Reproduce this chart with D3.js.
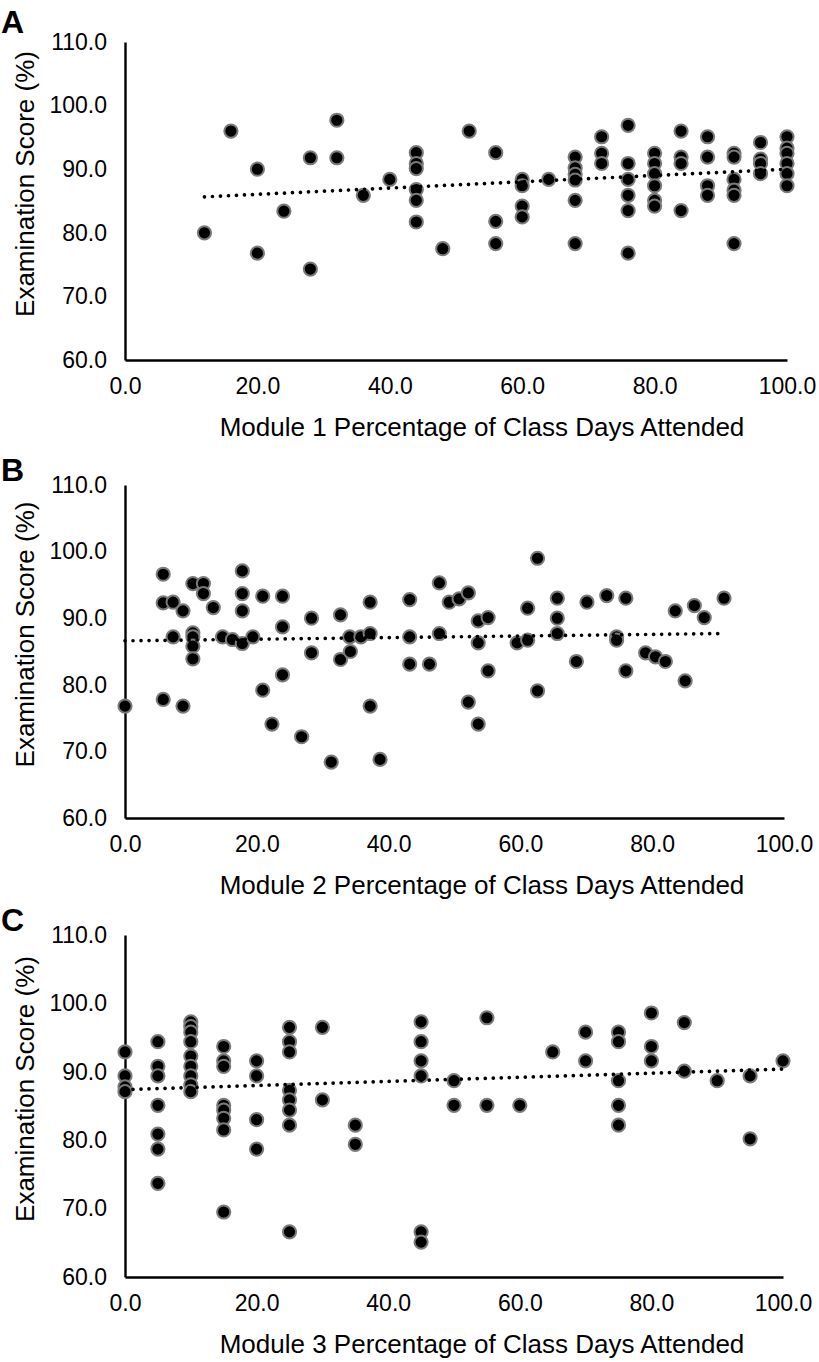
<!DOCTYPE html>
<html><head><meta charset="utf-8">
<script src="https://cdn.jsdelivr.net/npm/d3@7"></script>
<style>
html,body{margin:0;padding:0;background:#fff;}
svg{display:block;font-family:"Liberation Sans",Arial,sans-serif;}
</style></head>
<body>
<svg id="chart" width="819" height="1362"></svg>
<script>
// ---------- data ----------
const panelLetters = ["A", "B", "C"];
const xTitles = [
  "Module 1 Percentage of Class Days Attended",
  "Module 2 Percentage of Class Days Attended",
  "Module 3 Percentage of Class Days Attended"
];
const yTitle = "Examination Score (%)";
const xTicks = [0, 20, 40, 60, 80, 100];
const yTicks = [60, 70, 80, 90, 100, 110];

const attendA = [12,16,20,20,24,28,28,32,32,36,40,44,44,44,44,44,44,48,52,56,56,56,60,60,60,60,64,
  68,68,68,68,68,68,72,72,72,76,76,76,76,76,76,80,80,80,80,80,80,84,84,84,84,88,88,88,88,
  92,92,92,92,92,92,96,96,96,96,100,100,100,100,100,100];
const scoreA = [80.0,96.0,90.0,76.8,83.4,91.8,74.3,97.7,91.8,85.9,88.4,92.6,90.9,90.1,86.8,85.1,81.7,77.5,96.0,92.6,81.8,78.3,88.4,87.4,84.2,82.5,88.4,
  91.9,90.2,89.2,88.3,85.1,78.3,95.1,92.5,90.9,96.9,90.9,88.4,85.9,83.5,76.8,92.5,90.9,89.3,87.4,85.1,84.2,96.0,91.9,90.9,83.5,95.1,91.9,87.4,85.9,
  92.5,91.9,88.4,86.7,85.9,78.3,94.2,91.6,90.9,89.3,95.1,93.3,92.5,90.9,89.3,87.4];

const attendB = [0,5.8,5.8,5.8,7.3,7.3,8.8,8.8,10.3,10.3,10.3,10.3,10.3,11.9,11.9,13.4,14.8,16.3,17.8,17.8,17.8,17.8,19.4,
  20.9,20.9,22.3,23.9,23.9,23.9,26.8,28.3,28.3,31.3,32.7,32.7,34.1,34.2,35.8,37.2,37.2,37.2,38.7,43.2,43.2,43.2,
  46.2,47.7,47.7,49.2,50.7,52.1,52.1,53.6,53.6,53.6,55.1,55.1,59.5,61.1,61.1,62.6,62.6,65.6,65.6,65.6,68.5,70.1,
  73.1,74.6,74.6,76.0,76.0,79.0,80.5,82.0,83.5,85.0,86.4,87.9,90.9];
const scoreB = [76.8,96.6,92.3,77.8,92.4,87.2,91.1,76.8,95.2,87.8,87.2,85.8,83.9,95.2,93.7,91.6,87.2,86.8,97.1,93.7,91.1,86.2,87.2,
  93.3,79.2,74.1,93.3,88.7,81.5,72.2,90.0,84.8,68.4,90.5,83.8,87.2,85.0,87.2,92.4,87.7,76.8,68.8,92.8,87.2,83.1,
  83.1,95.3,87.7,92.4,92.9,93.8,77.4,89.6,86.3,74.1,90.1,82.1,86.3,91.5,86.7,99.0,79.1,93.0,90.0,87.7,83.5,92.4,
  93.4,87.2,86.7,93.0,82.1,84.8,84.2,83.5,91.1,80.6,91.9,90.1,93.0];

const attendC = [0,0,0,0,5,5,5,5,5,5,5,10,10,10,10,10,10,10,10,10,15,15,15,15,15,15,15,15,20,20,20,20,
  25,25,25,25,25,25,25,25,30,30,35,35,45,45,45,45,45,45,50,50,55,55,60,65,70,70,75,75,75,75,75,
  80,80,80,85,85,90,95,95,100];
const scoreC = [92.9,89.4,87.8,87.1,94.4,90.8,89.4,85.1,80.9,78.7,73.7,97.3,96.6,95.8,94.4,92.3,90.8,89.4,88.1,87.1,
  93.7,91.6,90.8,85.1,84.4,83.2,81.5,69.5,91.6,89.4,83.0,78.7,
  96.5,94.4,92.9,87.3,85.9,84.4,82.2,66.6,96.5,85.9,82.2,79.4,97.3,94.4,91.6,89.4,66.6,65.1,
  88.7,85.1,97.9,85.1,85.1,92.9,95.8,91.6,95.8,94.4,88.7,85.1,82.2,98.6,93.7,91.6,97.2,90.1,88.7,89.4,80.2,91.6];

// trendline end points
const trendXA = [12, 100], trendYA = [85.65, 90.0];
const trendXB = [0, 91], trendYB = [86.6, 87.7];
const trendXC = [0, 100], trendYC = [87.4, 90.4];

// ---------- layout ----------
const panels = [
  {letter: panelLetters[0], xs: attendA, ys: scoreA, tx: trendXA, ty: trendYA, title: xTitles[0],
   left: 125, right: 787, top: 42, bottom: 360, letterY: 33},
  {letter: panelLetters[1], xs: attendB, ys: scoreB, tx: trendXB, ty: trendYB, title: xTitles[1],
   left: 125, right: 784, top: 485, bottom: 818, letterY: 481},
  {letter: panelLetters[2], xs: attendC, ys: scoreC, tx: trendXC, ty: trendYC, title: xTitles[2],
   left: 125, right: 783, top: 935, bottom: 1277, letterY: 931}
];

const svg = d3.select("#chart");
svg.append("rect").attr("width", 819).attr("height", 1362).attr("fill", "#fff");
const fmt = d3.format(".1f");

panels.forEach(p => {
  const x = d3.scaleLinear().domain([0, 100]).range([p.left, p.right]);
  const y = d3.scaleLinear().domain([60, 110]).range([p.bottom, p.top]);
  const g = svg.append("g");

  // panel letter
  g.append("text").attr("x", 1).attr("y", p.letterY)
    .attr("font-size", 32).attr("font-weight", "bold").attr("fill", "#000").text(p.letter);

  // y axis
  const yAxis = g.append("g").attr("transform", `translate(${p.left},0)`)
    .call(d3.axisLeft(y).tickValues(yTicks).tickFormat(fmt).tickSize(0).tickPadding(18));
  yAxis.select(".domain").attr("stroke", "#000").attr("stroke-width", 2.4);
  yAxis.selectAll("text").attr("font-size", 23).attr("fill", "#000")
    .attr("font-family", "'Liberation Sans',Arial,sans-serif");

  // x axis
  const xAxis = g.append("g").attr("transform", `translate(0,${p.bottom})`)
    .call(d3.axisBottom(x).tickValues(xTicks).tickFormat(fmt).tickSize(0).tickPadding(18));
  xAxis.select(".domain").attr("stroke", "#000").attr("stroke-width", 2.4);
  xAxis.selectAll("text").attr("font-size", 23).attr("fill", "#000")
    .attr("font-family", "'Liberation Sans',Arial,sans-serif");

  // axis titles
  g.append("text").attr("x", 482).attr("y", p.bottom + 76)
    .attr("text-anchor", "middle").attr("font-size", 26).attr("fill", "#000").text(p.title);
  const cy = (p.top + p.bottom) / 2 - 17;
  g.append("text").attr("transform", `translate(34,${cy}) rotate(-90)`)
    .attr("text-anchor", "middle").attr("font-size", 26).attr("fill", "#000").text(yTitle);

  // points
  const pts = p.xs.map((v, i) => [v, p.ys[i]]);
  g.append("g").selectAll("circle").data(pts).join("circle")
    .attr("cx", d => x(d[0])).attr("cy", d => y(d[1])).attr("r", 6.6)
    .attr("fill", "#000").attr("stroke", "#7a7a7a").attr("stroke-width", 2);

  // trendline (dotted)
  const line = d3.line().x(d => x(d[0])).y(d => y(d[1]));
  g.append("path").datum(p.tx.map((v, i) => [v, p.ty[i]]))
    .attr("d", line).attr("fill", "none").attr("stroke", "#000")
    .attr("stroke-width", 3.7).attr("stroke-linecap", "round").attr("stroke-dasharray", "0.01,8");
});
</script>
</body></html>
